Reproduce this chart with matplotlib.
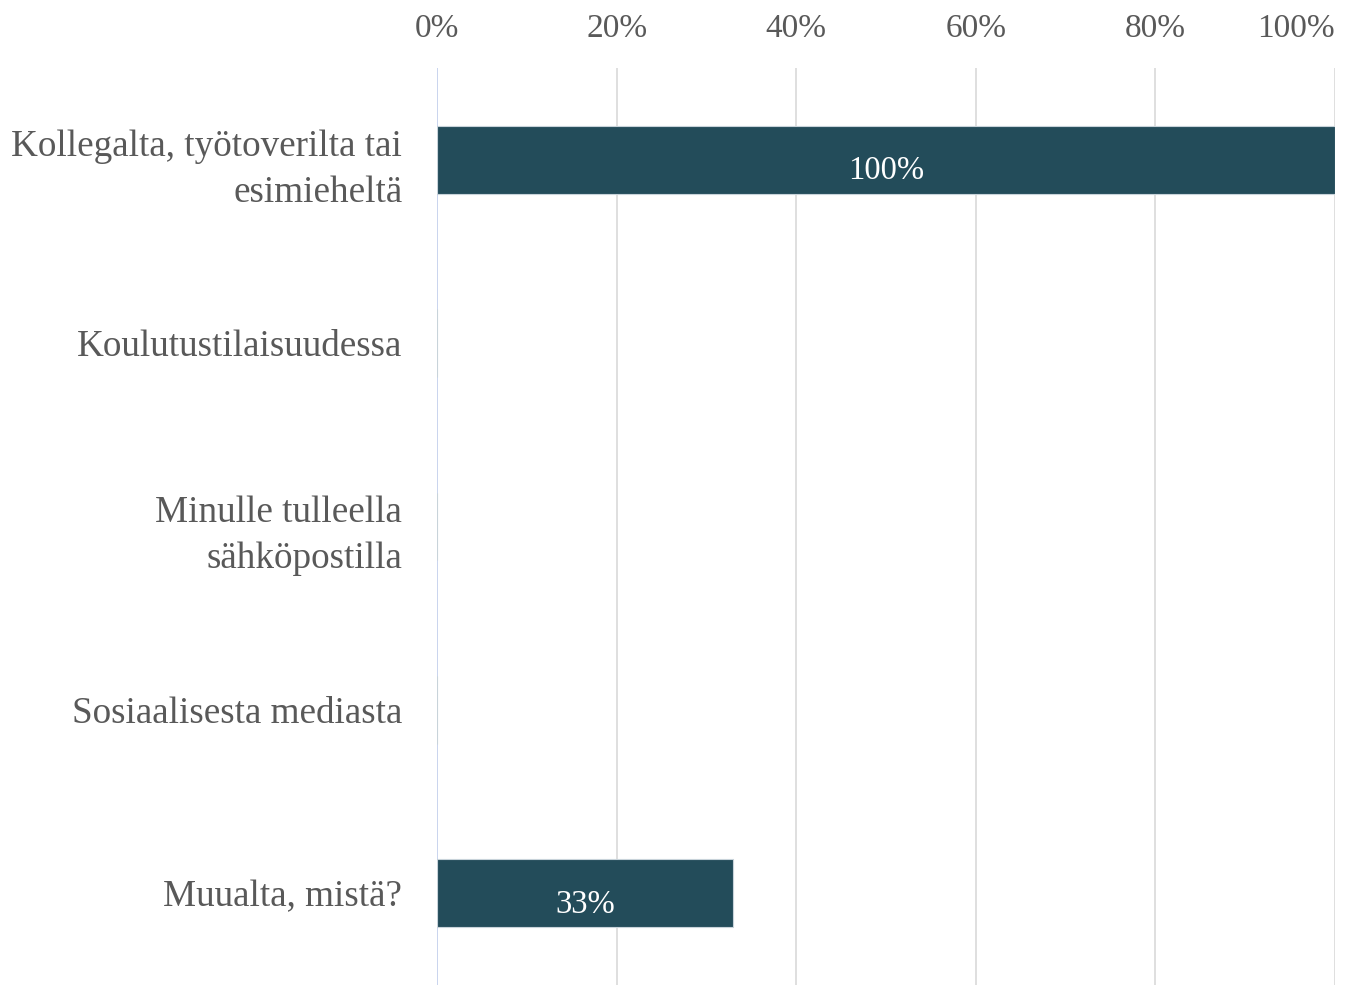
import numpy as np
import matplotlib
matplotlib.use("Agg")
import matplotlib.pyplot as plt
from matplotlib.ticker import PercentFormatter

categories = [
    "Kollegalta, työtoverilta tai\nesimieheltä",
    "Koulutustilaisuudessa",
    "Minulle tulleella\nsähköpostilla",
    "Sosiaalisesta mediasta",
    "Muualta, mistä?",
]
values = [1.00, 0.0, 0.0, 0.0, 0.33]
xticks = [0, 0.2, 0.4, 0.6, 0.8, 1.0]

bar_color = "#234c5a"
text_gray = "#595959"

plt.rcParams["font.family"] = ["Liberation Serif", "DejaVu Serif"]

fig = plt.figure(figsize=(13.46, 9.85), dpi=100)
ax = fig.add_axes([0.3247, 0.0, 0.6671, 0.931])

y = np.arange(len(categories))
ax.barh(y, values, height=0.37, color=bar_color, edgecolor="#c8d3da",
        linewidth=0.8, zorder=3)

for yi, v in zip(y, values):
    if v > 0:
        ax.text(v / 2, yi + 0.06, f"{v:.0%}", ha="center", va="center",
                color="white", fontsize=23.5, zorder=4)

ax.set_yticks(y)
ax.set_yticklabels(categories, fontsize=26.7, color=text_gray,
                   linespacing=1.43)
ax.set_ylim(len(categories) - 0.5, -0.5)
ax.set_xlim(0, 1.0)
ax.set_xticks(xticks)
ax.xaxis.set_major_formatter(PercentFormatter(1.0, decimals=0))
ax.xaxis.tick_top()
ax.tick_params(axis="x", length=0, pad=17.5, labelsize=24, labelcolor=text_gray)
ax.tick_params(axis="y", length=0, pad=25)
ax.get_xticklabels()[-1].set_horizontalalignment("right")

for xt in xticks[1:]:
    ax.axvline(xt, color="#d9d9d9", linewidth=1.2, zorder=1)
ax.axvline(0, color="#c9d4ee", linewidth=1.4, zorder=2)

for s in ax.spines.values():
    s.set_visible(False)

fig.savefig("out.png", dpi=100)
